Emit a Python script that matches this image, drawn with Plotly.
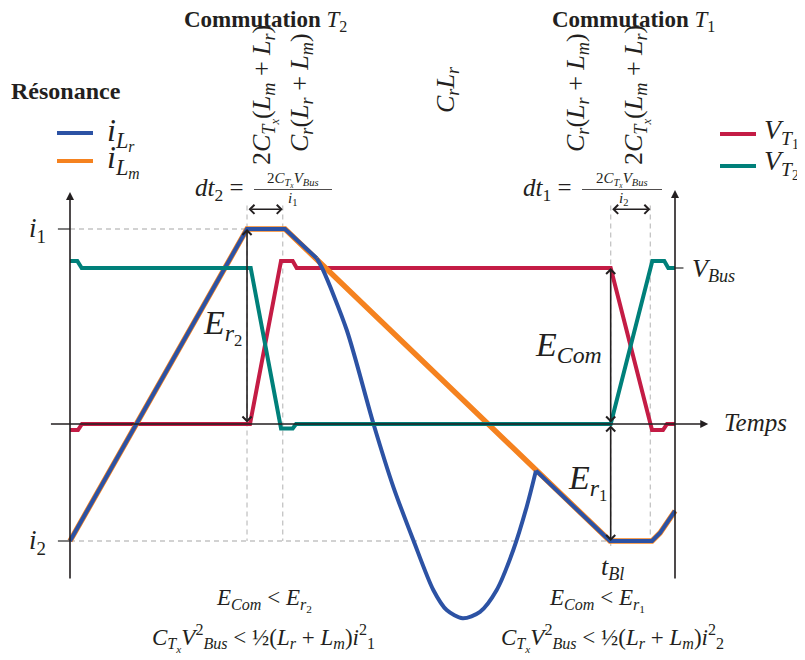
import plotly.graph_objects as go

# la page html ajoute une marge de 8 px : la figure est réduite d'autant
OFF = 8
W, H = 805 - OFF, 660 - OFF
SERIF = "Liberation Serif"
INK = "#231f20"
GREY = "#c4c4c4"
BLUE = "#2c52a4"
ORANGE = "#f5821f"
RED = "#c41c45"
TEAL = "#00807a"

# niveaux (normalisés sur i1)
i1 = 1.0
i2 = -0.6
v_bus = 0.8

# instants des deux commutations (temps en unités arbitraires, 0 -> 100)
t_com2 = [29.26, 35.16]
t_com1 = [89.37, 95.92]
t_end = 100

# courant magnétisant i_Lm
t_lm = [0, 29.26, 35.54, 89.26, 96.2, 97.52, 100]
i_lm = [-0.6, 1.0, 1.0, -0.6, -0.6, -0.559, -0.446]

# courant résonant i_Lr (indices 3..16 = résonance Cr Lr)
t_lr = [0, 29.26, 35.54, 40.78, 41.82, 45.74, 50.13, 53.44, 56.74, 60.05, 62.26,
        64.91, 67.77, 70.53, 73.27, 75.49, 77.02, 89.26, 96.2, 97.52, 100]
i_lr = [-0.6, 1.0, 1.0, 0.85, 0.79, 0.482, 0.004, -0.322, -0.595, -0.851, -0.954,
        -0.996, -0.963, -0.851, -0.646, -0.424, -0.239, -0.6, -0.6, -0.559, -0.446]

# tension V_T1
t_vt1 = [0, 1.32, 1.98, 29.75, 34.88, 36.81, 37.47, 89.37, 96.2, 98.02, 98.68, 100]
v_t1 = [-0.031, -0.031, 0, 0, 0.836, 0.836, 0.8, 0.8, -0.031, -0.031, 0, 0]

# tension V_T2
t_vt2 = [0, 1.21, 1.93, 29.87, 34.88, 36.81, 37.36, 89.37, 96.25, 98.23, 98.89, 100]
v_t2 = [0.836, 0.836, 0.8, 0.8, -0.023, -0.023, 0, 0, 0.836, 0.836, 0.8, 0.8]


def px(x):
    return (x - OFF) / W


def py(y):
    return 1 - (y - OFF) / H


def note(text, x, y, size, angle=0, anchor="center"):
    return dict(text=text, x=px(x), y=py(y), xref="paper", yref="paper",
                showarrow=False, textangle=angle, xanchor=anchor, yanchor="middle",
                font=dict(family=SERIF, size=size, color=INK))


def arrow(x0, y0, x1, y1, both=False, head=2):
    return dict(text="", x=x1, y=y1, ax=x0, ay=y0, xref="x", yref="y",
                axref="x", ayref="y", showarrow=True, arrowhead=head,
                startarrowhead=head, arrowside="end+start" if both else "end",
                arrowsize=1.1 if both else 1, arrowwidth=1.6, arrowcolor=INK)


fig = go.Figure()

fig.add_trace(go.Scatter(x=t_vt1, y=v_t1, mode="lines", line=dict(color=RED, width=4)))
fig.add_trace(go.Scatter(x=t_lm, y=i_lm, mode="lines", line=dict(color=ORANGE, width=5.5)))
fig.add_trace(go.Scatter(x=t_lr[:4], y=i_lr[:4], mode="lines", line=dict(color=BLUE, width=4)))
fig.add_trace(go.Scatter(x=t_lr[3:17], y=i_lr[3:17], mode="lines",
                         line=dict(color=BLUE, width=4, shape="spline", smoothing=0.8)))
fig.add_trace(go.Scatter(x=t_lr[16:], y=i_lr[16:], mode="lines", line=dict(color=BLUE, width=4)))
fig.add_trace(go.Scatter(x=t_vt2, y=v_t2, mode="lines", line=dict(color=TEAL, width=4)))

dash = dict(color=GREY, width=1.3, dash="5px,4px")
shapes = [
    dict(type="line", x0=0, x1=t_com2[1], y0=i1, y1=i1, line=dash, layer="below"),
    dict(type="line", x0=0, x1=t_lm[3], y0=i2, y1=i2, line=dash, layer="below"),
]
for tc in t_com2 + t_com1:
    shapes.append(dict(type="line", x0=tc, x1=tc, y0=1.12, y1=i2, line=dash, layer="below"))
shapes.append(dict(type="line", x0=t_com1[0], x1=t_com1[0], y0=i2, y1=-0.64, line=dash, layer="below"))
# graduations
tick = dict(color="#555", width=1.5)
shapes += [
    dict(type="line", x0=-2, x1=0, y0=i1, y1=i1, line=tick),
    dict(type="line", x0=-2, x1=0, y0=i2, y1=i2, line=tick),
    dict(type="line", x0=t_end, x1=t_end + 1.4, y0=v_bus, y1=v_bus, line=tick),
]
# légendes (traits)
legend_items = [(57, 93, 133, BLUE), (57, 93, 161, ORANGE), (720, 756, 134, RED), (720, 756, 166, TEAL)]
for xa, xb, yy, col in legend_items:
    shapes.append(dict(type="line", xref="paper", yref="paper", x0=px(xa), x1=px(xb),
                       y0=py(yy), y1=py(yy), line=dict(color=col, width=4)))
# barres de fraction
for xa, xb in [(254, 332), (582, 662)]:
    shapes.append(dict(type="line", xref="paper", yref="paper", x0=px(xa), x1=px(xb),
                       y0=py(189.5), y1=py(189.5), line=dict(color=INK, width=0.8)))

ann = [
    # axes
    arrow(0, -0.8, 0, 1.19),
    arrow(t_end, -0.8, t_end, 1.2),
    arrow(-3.4, 0, 105.5, 0),
    # flèches doubles
    arrow(t_com2[0], 1.101, t_com2[1], 1.101, both=True, head=4),
    arrow(t_com1[0], 1.101, t_com1[1], 1.101, both=True, head=4),
    arrow(t_com2[0], 0, t_com2[0], i1, both=True, head=4),
    arrow(t_com1[0], 0, t_com1[0], v_bus, both=True, head=4),
    arrow(t_com1[0], 0, t_com1[0], i2, both=True, head=4),
]

sub_lr = "<i>L</i><sub><i>r</i></sub>"
sub_lm = "<i>L</i><sub><i>m</i></sub>"
ctx = "<i>C</i><sub><i>T</i><sub><i>x</i></sub></sub>"
vbus = "<i>V</i><sub><i>Bus</i></sub>"

ann += [
    note("<b>Commutation</b> <i>T</i><sub>2</sub>", 265, 21, 23),
    note("<b>Commutation</b> <i>T</i><sub>1</sub>", 633, 21, 23),
    note("<b>Résonance</b>", 66, 91, 24),
    note("<i>i</i><sub>" + sub_lr + "</sub>", 121, 133, 32),
    note("<i>i</i><sub>" + sub_lm + "</sub>", 123, 161, 32),
    note("<i>V</i><sub><i>T</i><sub>1</sub></sub>", 762, 133, 28, anchor="left"),
    note("<i>V</i><sub><i>T</i><sub>2</sub></sub>", 762, 164, 28, anchor="left"),
    note("2" + ctx + "(" + sub_lm + " + " + sub_lr + ")", 264, 95, 26, angle=-90),
    note("<i>C</i><sub><i>r</i></sub>(" + sub_lr + " + " + sub_lm + ")", 301, 93, 26, angle=-90),
    note("<i>C</i><sub><i>r</i></sub>" + sub_lr, 447, 90, 26, angle=-90),
    note("<i>C</i><sub><i>r</i></sub>(" + sub_lr + " + " + sub_lm + ")", 577, 93, 26, angle=-90),
    note("2" + ctx + "(" + sub_lm + " + " + sub_lr + ")", 636, 95, 26, angle=-90),
    note("<i>dt</i><sub>2</sub> =", 219, 190, 25),
    note("2" + ctx + vbus, 293, 180, 15),
    note("<i>i</i><sub>1</sub>", 292, 199, 15),
    note("<i>dt</i><sub>1</sub> =", 547, 190, 25),
    note("2" + ctx + vbus, 622, 180, 15),
    note("<i>i</i><sub>2</sub>", 623, 199, 15),
    note("<i>i</i><sub>1</sub>", 38, 230, 27),
    note("<i>i</i><sub>2</sub>", 38, 542, 27),
    note("<i>V</i><sub><i>Bus</i></sub>", 713, 270, 26),
    note("<i>Temps</i>", 755, 422, 25),
    note("<i>E</i><sub><i>r</i><sub>2</sub></sub>", 222, 327, 34),
    note("<i>E</i><sub><i>Com</i></sub>", 568, 347, 34),
    note("<i>E</i><sub><i>r</i><sub>1</sub></sub>", 587, 482, 34),
    note("<i>t</i><sub><i>Bl</i></sub>", 612, 568, 26),
    note("<i>E</i><sub><i>Com</i></sub> &lt; <i>E</i><sub><i>r</i><sub>2</sub></sub>", 264, 600, 23),
    note(ctx + "<i>V</i><sup>2</sup><sub><i>Bus</i></sub> &lt; ½(" + sub_lr + " + " + sub_lm
         + ")<i>i</i><sup>2</sup><sub>1</sub>", 264, 638, 23),
    note("<i>E</i><sub><i>Com</i></sub> &lt; <i>E</i><sub><i>r</i><sub>1</sub></sub>", 597, 600, 23),
    note(ctx + "<i>V</i><sup>2</sup><sub><i>Bus</i></sub> &lt; ½(" + sub_lr + " + " + sub_lm
         + ")<i>i</i><sup>2</sup><sub>2</sub>", 612, 638, 23),
]

fig.update_layout(
    width=W, height=H,
    margin=dict(l=0, r=0, t=0, b=0),
    paper_bgcolor="white", plot_bgcolor="white",
    showlegend=False,
    xaxis=dict(range=[-62 / 6.05, (W - 62) / 6.05], visible=False, fixedrange=True),
    yaxis=dict(range=[(416 - H) / 195, 416 / 195], visible=False, fixedrange=True),
    shapes=shapes,
    annotations=ann,
)

fig.write_html("out.html")
